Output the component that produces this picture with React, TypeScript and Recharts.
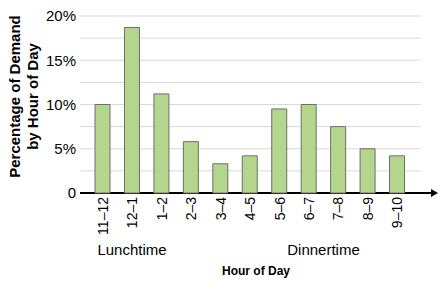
import React from 'react';
import { BarChart, Bar, XAxis, YAxis, CartesianGrid, usePlotArea } from 'recharts';

const hours = ['11–12', '12–1', '1–2', '2–3', '3–4', '4–5', '5–6', '6–7', '7–8', '8–9', '9–10'];
const demand = [10, 18.7, 11.2, 5.8, 3.3, 4.2, 9.5, 10, 7.5, 5, 4.2];
const yTicks = [0, 2.5, 5, 7.5, 10, 12.5, 15, 17.5, 20];

const data = hours.map((h, i) => ({ hour: h, pct: demand[i] }));

const FONT = '"Liberation Sans", Arial, sans-serif';

const HourTick = (props: any) => {
  const { x, y, payload } = props;
  return (
    <text
      x={0}
      y={0}
      transform={`translate(${x},${y}) rotate(-90)`}
      textAnchor="end"
      dy="0.36em"
      fontSize={14}
      fontFamily={FONT}
      fill="#000"
    >
      {payload.value}
    </text>
  );
};

// x axis line with arrow head, plus the annotations around the plot
const Decorations = () => {
  const area = usePlotArea();
  if (!area) return null;
  const y = area.y + area.height;
  const x0 = area.x;
  const tip = area.x + area.width + 17;
  return (
    <g>
      <line x1={x0} y1={y} x2={tip - 5} y2={y} stroke="#000" strokeWidth={1.8} />
      <polygon points={`${tip},${y} ${tip - 7},${y - 4} ${tip - 7},${y + 4}`} fill="#000" />
      <text x={132} y={254.5} textAnchor="middle" fontSize={15} fontFamily={FONT} fill="#000">Lunchtime</text>
      <text x={323.5} y={254.5} textAnchor="middle" fontSize={15} fontFamily={FONT} fill="#000">Dinnertime</text>
      <text x={256} y={274.5} textAnchor="middle" fontSize={12} fontWeight="bold" fontFamily={FONT} fill="#000">Hour of Day</text>
      <text transform="translate(20,96.5) rotate(-90)" textAnchor="middle" fontSize={15} fontWeight="bold" fontFamily={FONT} fill="#000">
        <tspan x={0} dy={0}>Percentage of Demand</tspan>
        <tspan x={0} dy={17.5}>by Hour of Day</tspan>
      </text>
    </g>
  );
};

export default function App() {
  return (
    <div style={{ position: 'absolute', left: 0, top: 0, width: 440, height: 284, background: '#fff' }}>
      <BarChart
        width={440}
        height={284}
        data={data}
        margin={{ top: 16, right: 19, left: 0, bottom: 0 }}
        barSize={15}
      >
        <CartesianGrid vertical={false} stroke="#d9d9d9" strokeWidth={1} />
        <XAxis
          dataKey="hour"
          interval={0}
          height={91}
          axisLine={false}
          tickLine={false}
          tickSize={0}
          tickMargin={4}
          padding={{ left: 8, right: 9 }}
          tick={<HourTick />}
        />
        <YAxis
          width={80}
          domain={[0, 20]}
          ticks={yTicks}
          interval={0}
          axisLine={false}
          tickLine={false}
          tickSize={0}
          tickMargin={4}
          tickFormatter={(v: number) => (v === 0 ? '0' : v % 5 === 0 ? `${v}%` : '')}
          tick={{ fill: '#000', fontSize: 15, fontFamily: FONT }}
        />
        <Bar dataKey="pct" fill="#b4d68c" stroke="#6e6e6e" strokeWidth={1} isAnimationActive={false} />
        <Decorations />
      </BarChart>
    </div>
  );
}
